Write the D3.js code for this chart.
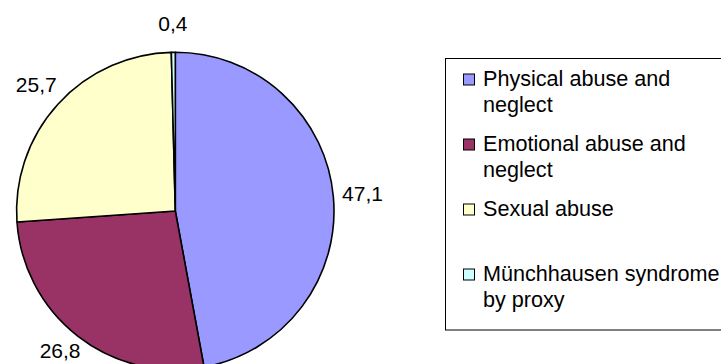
<!DOCTYPE html>
<html>
<head>
<meta charset="utf-8">
<script src="https://cdn.jsdelivr.net/npm/d3@7"></script>
<style>
  html, body { margin: 0; padding: 0; background: #ffffff; }
  svg { display: block; }
  text { font-family: "Liberation Sans", Arial, sans-serif; fill: #000; }
</style>
</head>
<body>
<svg id="chart" width="721" height="364"></svg>
<script>
// Share of cases by type of abuse (percent)
const categories = [
  "Physical abuse and neglect",
  "Emotional abuse and neglect",
  "Sexual abuse",
  "Münchhausen syndrome by proxy"
];
const legendLines = [
  ["Physical abuse and", "neglect"],
  ["Emotional abuse and", "neglect"],
  ["Sexual abuse"],
  ["Münchhausen syndrome", "by proxy"]
];
const values = [47.1, 26.8, 25.7, 0.4];
const colors = ["#9999FF", "#993366", "#FFFFCC", "#CCFFFF"];

const data = categories.map((c, i) => ({ name: c, value: values[i], color: colors[i], lines: legendLines[i] }));

const svg = d3.select("#chart");
const W = 721, H = 364;

// Pie geometry
const cx = 175.3, cy = 211, R = 158.7;
const labelR = 188;

const fmt = d3.formatLocale({ decimal: ",", thousands: ".", grouping: [3], currency: ["", "€"] }).format(".1f");

const pie = d3.pie().sort(null).value(d => d.value);
const arcs = pie(data);
const arc = d3.arc().innerRadius(0).outerRadius(R);
const labelArc = d3.arc().innerRadius(labelR).outerRadius(labelR);

const g = svg.append("g").attr("transform", `translate(${cx},${cy})`);

g.selectAll("path.slice")
  .data(arcs)
  .join("path")
  .attr("class", "slice")
  .attr("d", arc)
  .attr("fill", d => d.data.color)
  .attr("stroke", "#000")
  .attr("stroke-width", 1.6)
  .attr("stroke-linejoin", "round");

// Value labels outside the pie, kept fully inside the drawing area
const fontPx = 21, capHalf = 0.36 * fontPx, descent = 0.22 * fontPx;
const maxCenterY = (H - cy) - capHalf - descent - 1;
g.selectAll("text.val")
  .data(arcs)
  .join("text")
  .attr("class", "val")
  .attr("x", d => labelArc.centroid(d)[0])
  .attr("y", d => Math.min(labelArc.centroid(d)[1], maxCenterY))
  .attr("text-anchor", "middle")
  .attr("dy", "0.36em")
  .style("font-size", fontPx + "px")
  .text(d => fmt(d.data.value));

// Legend
const legX = 445, legY = 58.5, legBottom = 330;
svg.append("rect")
  .attr("x", legX + 0.5)
  .attr("y", legY)
  .attr("width", W - legX + 10)
  .attr("height", legBottom - legY)
  .attr("fill", "#fff")
  .attr("stroke", "#000")
  .attr("stroke-width", 1);

const firstBaseline = 86, entryStep = 65, lineStep = 25.7;
const swX = 463.5, txtX = 483, sw = 11;

const items = svg.selectAll("g.leg")
  .data(data)
  .join("g")
  .attr("class", "leg")
  .attr("transform", (d, i) => `translate(0,${firstBaseline + i * entryStep})`);

items.append("rect")
  .attr("x", swX)
  .attr("y", -12)
  .attr("width", sw)
  .attr("height", sw)
  .attr("fill", d => d.color)
  .attr("stroke", "#000")
  .attr("stroke-width", 1);

items.append("text")
  .attr("x", txtX)
  .attr("y", 0)
  .style("font-size", "21.6px")
  .selectAll("tspan")
  .data(d => d.lines)
  .join("tspan")
  .attr("x", txtX)
  .attr("y", (l, j) => j * lineStep)
  .text(l => l);
</script>
</body>
</html>
